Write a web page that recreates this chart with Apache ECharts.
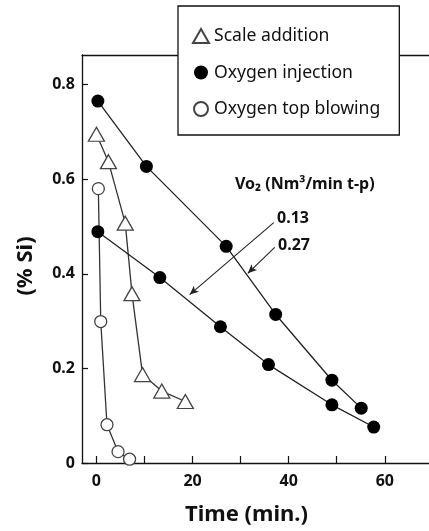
<!DOCTYPE html>
<html>
<head>
<meta charset="utf-8">
<script src="https://cdn.jsdelivr.net/npm/echarts@6/dist/echarts.min.js"></script>
<style>html,body{margin:0;padding:0;background:#fff}#c{width:429px;height:531px}</style>
</head>
<body>
<div id="c"></div>
<script>
// Data (time in min, %Si)
const scaleTime = [0, 2.5, 6, 7.4, 9.6, 13.6, 18.5];
const scaleSi   = [0.695, 0.637, 0.507, 0.358, 0.187, 0.152, 0.130];
const injHighTime = [0.3, 10.4, 27, 37.3, 49, 55.1];      // VO2 = 0.27
const injHighSi   = [0.765, 0.627, 0.458, 0.314, 0.175, 0.116];
const injLowTime  = [0.3, 13.2, 25.8, 35.8, 49, 57.7];     // VO2 = 0.13
const injLowSi    = [0.489, 0.392, 0.288, 0.208, 0.123, 0.076];
const topTime = [0.4, 0.9, 2.2, 4.5, 6.9];
const topSi   = [0.580, 0.299, 0.081, 0.024, 0.008];
const xTicks = [0, 10, 20, 30, 40, 50, 60, 70];
const xLabels = [0, 20, 40, 60];
const yTicks = [0, 0.2, 0.4, 0.6, 0.8];
// annotation arrows (data coords): from label to line
const arrow013 = [[36.9, 0.508], [19.4, 0.356]];
const arrow027 = [[37.1, 0.456], [31.5, 0.401]];

const zip = (a, b) => a.map((v, i) => [v, b[i]]);
const FONT = 'Noto Sans';
const TXT = '#111';

const chart = echarts.init(document.getElementById('c'), null, {renderer: 'canvas'});
chart.setOption({
  animation: false,
  textStyle: {fontFamily: FONT},
  grid: {left: 82, top: 55, right: -4, bottom: 62},
  legend: {
    orient: 'vertical', left: 178, top: 6,
    itemWidth: 16, itemHeight: 14, itemGap: 18.5,
    padding: [21, 19, 17, 14],
    borderColor: '#111', borderWidth: 1.3, backgroundColor: '#fff',
    textStyle: {fontFamily: FONT, fontSize: 17.6, color: TXT},
    data: [
      {name: 'Scale addition', icon: 'triangle'},
      {name: 'Oxygen injection', icon: 'circle'},
      {name: 'Oxygen top blowing', icon: 'circle'}
    ],
    z: 10
  },
  xAxis: [{
    type: 'value', min: -3, max: 69.2,
    name: 'Time (min.)', nameLocation: 'middle', nameGap: 41,
    nameTextStyle: {fontFamily: FONT, fontSize: 22, fontWeight: 'bold', color: TXT, padding: [0, 18, 0, 0]},
    axisLine: {show: true, onZero: false, lineStyle: {color: '#111', width: 1.3}},
    axisTick: {show: true, inside: true, length: 7, customValues: xTicks, lineStyle: {color: '#111', width: 1.2}},
    axisLabel: {customValues: xLabels, fontFamily: FONT, fontSize: 16, fontWeight: 'bold', color: TXT, margin: 10},
    splitLine: {show: false}
  }, {
    type: 'value', min: -3, max: 69.2, position: 'top',
    axisLine: {show: true, onZero: false, lineStyle: {color: '#111', width: 1.3}},
    axisTick: {show: false}, axisLabel: {show: false}, splitLine: {show: false}
  }],
  yAxis: {
    type: 'value', min: 0, max: 0.8625,
    name: '(% Si)', nameLocation: 'middle', nameGap: 45, nameRotate: 90,
    nameTextStyle: {fontFamily: FONT, fontSize: 22, fontWeight: 'bold', color: TXT, padding: [0, 14, 0, 0]},
    axisLine: {show: true, onZero: false, lineStyle: {color: '#111', width: 1.3}},
    axisTick: {show: true, inside: true, length: 6, customValues: yTicks, lineStyle: {color: '#111', width: 1.2}},
    axisLabel: {customValues: yTicks, fontFamily: FONT, fontSize: 16, fontWeight: 'bold', color: TXT, margin: 7,
      formatter: v => (v === 0 ? '0' : v.toFixed(1))},
    splitLine: {show: false}
  },
  series: [
    {
      name: 'Scale addition', type: 'line', data: zip(scaleTime, scaleSi),
      symbol: 'triangle', symbolSize: [16, 14], z: 3,
      lineStyle: {color: '#333', width: 1.3},
      itemStyle: {color: '#fff', borderColor: '#444', borderWidth: 1.3}
    },
    {
      name: 'Oxygen injection', type: 'line', data: zip(injHighTime, injHighSi),
      symbol: 'circle', symbolSize: 13, z: 3,
      lineStyle: {color: '#222', width: 1.3},
      itemStyle: {color: '#000', borderColor: '#000', borderWidth: 0},
      markLine: {
        silent: true, symbol: ['none', 'arrow'], symbolSize: [6, 9],
        lineStyle: {color: '#222', width: 1.1, type: 'solid'},
        label: {show: false},
        data: [
          [{coord: arrow013[0]}, {coord: arrow013[1]}],
          [{coord: arrow027[0]}, {coord: arrow027[1]}]
        ]
      }
    },
    {
      name: 'Oxygen injection', type: 'line', data: zip(injLowTime, injLowSi),
      symbol: 'circle', symbolSize: 13, z: 3,
      lineStyle: {color: '#222', width: 1.3},
      itemStyle: {color: '#000', borderColor: '#000', borderWidth: 0}
    },
    {
      name: 'Oxygen top blowing', type: 'line', data: zip(topTime, topSi),
      symbol: 'circle', symbolSize: 12, z: 3,
      lineStyle: {color: '#333', width: 1.3},
      itemStyle: {color: '#fff', borderColor: '#444', borderWidth: 1.3}
    }
  ],
  graphic: [
    {type: 'text', left: 235, top: 176, z: 20,
     style: {text: 'Vo\u2082 (Nm\u00b3/min t-p)', fontFamily: FONT, fontSize: 16, fontWeight: 'bold', fill: TXT}},
    {type: 'text', left: 277, top: 210, z: 20,
     style: {text: '0.13', fontFamily: FONT, fontSize: 16, fontWeight: 'bold', fill: TXT}},
    {type: 'text', left: 278, top: 237, z: 20,
     style: {text: '0.27', fontFamily: FONT, fontSize: 16, fontWeight: 'bold', fill: TXT}}
  ]
});
</script>
</body>
</html>
